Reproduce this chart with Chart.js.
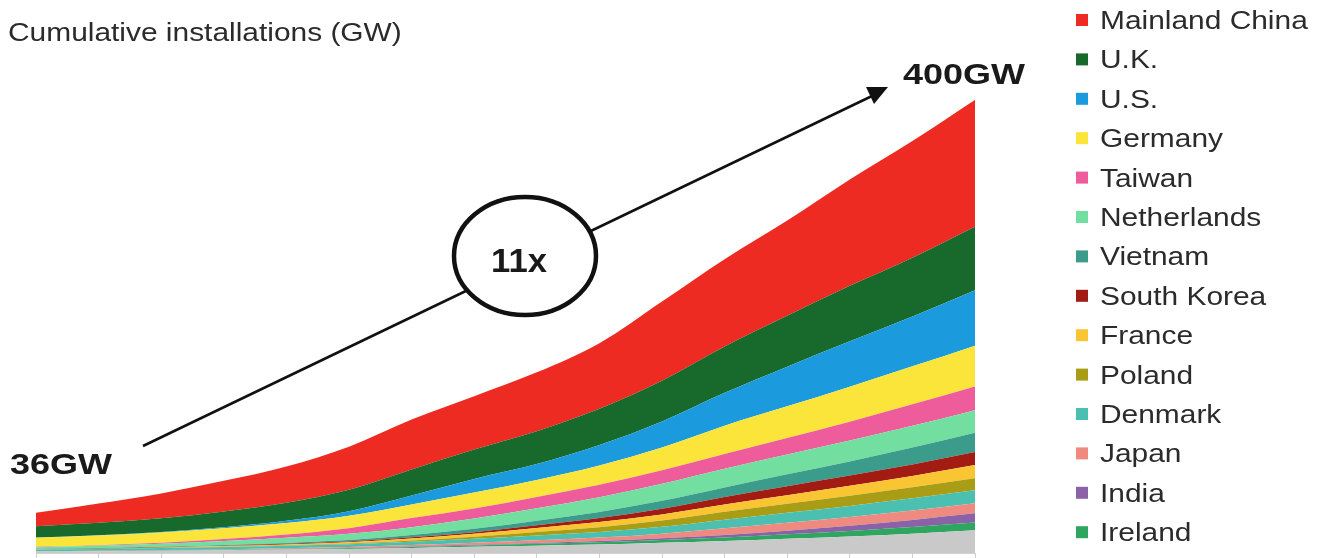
<!DOCTYPE html>
<html>
<head>
<meta charset="utf-8">
<script src="https://cdn.jsdelivr.net/npm/chart.js@4.4.1/dist/chart.umd.min.js"></script>
<style>
html,body{margin:0;padding:0;background:#fff;}
#wrap{width:1325px;height:558px;position:relative;}
</style>
</head>
<body>
<div id="wrap"><canvas id="c" width="1325" height="558"></canvas></div>
<script>
const years = ['2020','2021','2022','2023','2024','2025','2026','2027','2028','2029','2030','2031','2032','2033','2034','2035'];
const china       = [12,17,22,27,32,38,44,47,52,58,70,77,84,94,103,112];
const uk          = [10,11,12,14,16,19,23,26,29,32,36,41,45,49,52,56];
const us          = [0.2,0.3,0.5,0.8,2,4,8,12,14,18,23,29,35,40,44,49];
const germany     = [8,8.5,9,9.5,10,11,12,14,15,17,20,25,28,31,33.5,36];
const taiwan      = [0.3,0.6,1,1.8,3,5,8,9,10,11,12,13,14.5,16.5,19,21];
const netherlands = [1.5,2,2.5,3.5,4.5,5.5,7,9,11,13,15,16.5,17.5,18.5,19.2,20];
const vietnam     = [0.2,0.3,0.4,0.6,0.8,1.2,2,3,4,5.5,7,8.5,10.5,12.5,15,17];
const southKorea  = [0.2,0.2,0.3,0.4,0.5,0.7,1,1.5,2.5,3.5,5,6.5,8,9,10,11.5];
const france      = [0.1,0.2,0.3,0.5,0.8,1.2,1.8,2.5,3.5,4.5,5.5,6.5,7.5,8.8,10,11.5];
const poland      = [0.1,0.1,0.1,0.2,0.3,0.5,1,1.8,3,4.2,5.5,7,8,9,9.8,10.6];
const denmark     = [1.5,1.6,1.8,2,2.2,2.5,3,3.6,4.3,5,6,7.5,8.8,9.8,10.7,11.5];
const japan       = [0.1,0.2,0.3,0.4,0.6,0.8,1.2,1.7,2.3,3,4,6,7,7.8,8.4,9];
const india       = [0.05,0.05,0.1,0.1,0.2,0.3,0.4,0.6,0.8,1.1,1.6,2.2,3.2,4.5,6.2,8];
const ireland     = [0.1,0.2,0.3,0.4,0.5,0.7,0.9,1.2,1.6,2,2.5,3.2,4,5,6,7];
const others      = [1.3,1.5,2,2.5,3,3.5,4.5,5.5,6.5,7.5,9,10.5,12.5,14.5,17,20];

const titleText = 'Cumulative installations (GW)';
const startLabel = '36GW';
const endLabel = '400GW';
const growthLabel = '11x';

// bottom-to-top stacking order
const series = [
  {name:'Others', data:others, color:'#c9c9c9', legend:false},
  {name:'Ireland', data:ireland, color:'#2ea65f'},
  {name:'India', data:india, color:'#8a62a8'},
  {name:'Japan', data:japan, color:'#ef8a80'},
  {name:'Denmark', data:denmark, color:'#4cc0b0'},
  {name:'Poland', data:poland, color:'#a89d14'},
  {name:'France', data:france, color:'#f9c532'},
  {name:'South Korea', data:southKorea, color:'#a31c14'},
  {name:'Vietnam', data:vietnam, color:'#3c9c8c'},
  {name:'Netherlands', data:netherlands, color:'#72dfa0'},
  {name:'Taiwan', data:taiwan, color:'#ee5c9c'},
  {name:'Germany', data:germany, color:'#fbe53a'},
  {name:'U.S.', data:us, color:'#1c9ade'},
  {name:'U.K.', data:uk, color:'#17692c'},
  {name:'Mainland China', data:china, color:'#ee2b22'}
];

const datasets = series.map((s,i)=>({
  label:s.name,
  data:s.data,
  backgroundColor:s.color,
  borderColor:s.color,
  borderWidth:0,
  pointRadius:0,
  fill: i===0 ? 'origin' : '-1',
  cubicInterpolationMode:'monotone'
}));

const annot = {
  id:'annot',
  afterDraw(chart){
    const ctx = chart.ctx;
    const SX = 1.15;
    function stretchText(txt, x, y, font, color, sx, align){
      ctx.save();
      ctx.font = font;
      ctx.fillStyle = color;
      ctx.textBaseline = 'alphabetic';
      const w = ctx.measureText(txt).width * sx;
      let x0 = x;
      if(align==='center') x0 = x - w/2;
      ctx.translate(x0, y);
      ctx.scale(sx, 1);
      ctx.fillText(txt, 0, 0);
      ctx.restore();
    }
    // title
    stretchText(titleText, 8, 41, '26px "Liberation Sans", Arial, sans-serif', '#2b2b2b', SX);
    // arrow
    ctx.save();
    ctx.strokeStyle = '#111';
    ctx.lineWidth = 2.5;
    ctx.beginPath();
    ctx.moveTo(143,446);
    ctx.lineTo(872,96);
    ctx.stroke();
    ctx.fillStyle = '#111';
    ctx.beginPath();
    ctx.moveTo(888,87);
    ctx.lineTo(874,104);
    ctx.lineTo(866,87);
    ctx.closePath();
    ctx.fill();
    // ellipse
    ctx.beginPath();
    ctx.ellipse(525,256,71,59,0,0,Math.PI*2);
    ctx.fillStyle = '#fff';
    ctx.fill();
    ctx.lineWidth = 4.5;
    ctx.strokeStyle = '#111';
    ctx.stroke();
    ctx.restore();
    stretchText(growthLabel, 519, 272, 'bold 33px "Liberation Sans", Arial, sans-serif', '#1a1a1a', 1.05, 'center');
    stretchText(startLabel, 10, 474, 'bold 30px "Liberation Sans", Arial, sans-serif', '#1a1a1a', 1.2);
    stretchText(endLabel, 903, 84, 'bold 30px "Liberation Sans", Arial, sans-serif', '#1a1a1a', 1.2);
    // legend
    const items = chart.data.datasets.map((d,i)=>({d, s:series[i]})).filter(o=>o.s.legend!==false).reverse();
    items.forEach((o,i)=>{
      const cy = 20 + i*39.4;
      ctx.save();
      ctx.fillStyle = o.d.backgroundColor;
      ctx.fillRect(1076, cy-6, 12, 12);
      ctx.restore();
      stretchText(o.d.label, 1100, cy+9, '26px "Liberation Sans", Arial, sans-serif', '#2b2b2b', SX);
    });
  }
};

new Chart(document.getElementById('c'), {
  type:'line',
  data:{labels:years, datasets},
  options:{
    responsive:false,
    animation:false,
    devicePixelRatio:1,
    layout:{padding:{left:36, right:350, top:100, bottom:0}},
    plugins:{legend:{display:false}, title:{display:false}, tooltip:{enabled:false}},
    elements:{line:{borderWidth:0}},
    scales:{
      x:{
        offset:false,
        grid:{display:true, drawOnChartArea:false, drawTicks:true, tickLength:5, color:'#cfcfcf'},
        border:{display:true, color:'#d0d0d0'},
        ticks:{display:false}
      },
      y:{
        display:false,
        stacked:true,
        min:0,
        max:400
      }
    }
  },
  plugins:[annot]
});
</script>
</body>
</html>
